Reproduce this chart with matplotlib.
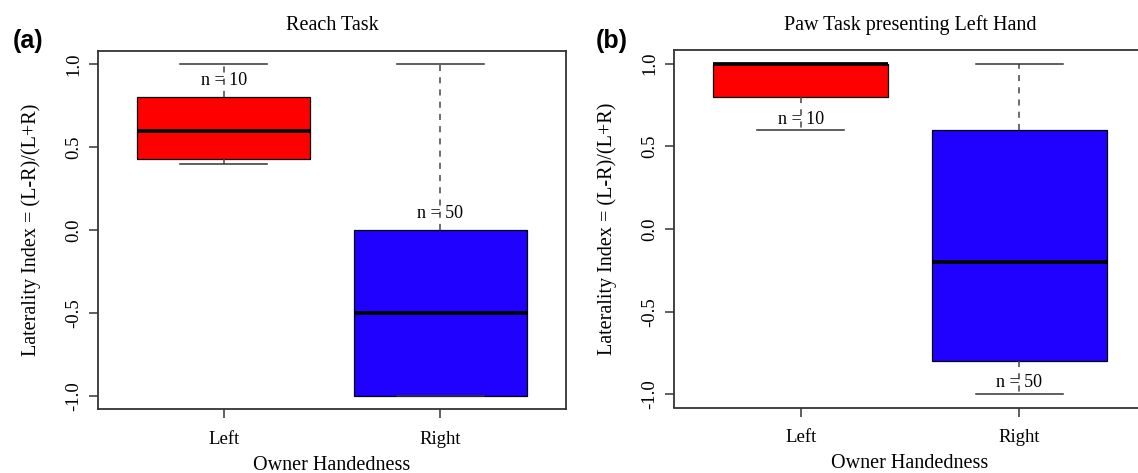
import matplotlib
matplotlib.use("Agg")
import matplotlib.pyplot as plt

# Data (R style boxplots)
groups = ["Left", "Right"]
panel_titles = ["Reach Task", "Paw Task presenting Left Hand"]
panel_tags = ["(a)", "(b)"]

# panel (a): Reach Task
reach_whislo = [0.40, -1.00]
reach_q1 = [0.43, -1.00]
reach_med = [0.60, -0.50]
reach_q3 = [0.80, 0.00]
reach_whishi = [1.00, 1.00]
reach_n = [10, 50]

# panel (b): Paw Task presenting Left Hand
paw_whislo = [0.60, -1.00]
paw_q1 = [0.80, -0.80]
paw_med = [1.00, -0.20]
paw_q3 = [1.00, 0.60]
paw_whishi = [1.00, 1.00]
paw_n = [10, 50]

yticks = [-1.0, -0.5, 0.0, 0.5, 1.0]
box_colors = ["#ff0000", "#2000ff"]

# where the "n = .." labels sit (y, data units)
reach_n_pos = [0.90, 0.10]
paw_n_pos = [0.665, -0.93]

serif = ["Liberation Serif", "DejaVu Serif"]


def make_stats(whislo, q1, med, q3, whishi):
    stats = []
    for i in range(len(med)):
        stats.append({
            "whislo": whislo[i], "q1": q1[i], "med": med[i],
            "q3": q3[i], "whishi": whishi[i], "fliers": [],
        })
    return stats


def draw_panel(ax, stats, n_vals, n_pos, title):
    bp = ax.bxp(
        stats, positions=[1, 2], widths=0.8, capwidths=0.4,
        patch_artist=True, showfliers=False,
        boxprops=dict(edgecolor="black", linewidth=0.9),
        medianprops=dict(color="black", linewidth=2.7, solid_capstyle="butt"),
        whiskerprops=dict(color="#444444", linewidth=1.1, linestyle=(0, (4, 4))),
        capprops=dict(color="#333333", linewidth=1.1),
    )
    for patch, c in zip(bp["boxes"], box_colors):
        patch.set_facecolor(c)

    for i, n in enumerate(n_vals):
        ax.text(i + 1, n_pos[i], f"n = {n}", ha="center", va="center",
                fontsize=13, family=serif)

    ax.set_xlim(0.42, 2.58)
    ax.set_ylim(-1.08, 1.08)
    ax.set_xticks([1, 2])
    ax.set_xticklabels(groups, fontsize=13.5, family=serif)
    ax.set_yticks(yticks)
    ax.set_yticklabels([f"{v:.1f}" for v in yticks], fontsize=13.5,
                       family=serif, rotation=90, va="center")
    ax.tick_params(axis="y", length=6.5, width=1.1, color="#333333", pad=5)
    ax.tick_params(axis="x", length=6.5, width=1.1, color="#333333", pad=9)
    for s in ax.spines.values():
        s.set_linewidth(1.3)
        s.set_color("#333333")

    ax.set_xlabel("Owner Handedness", fontsize=14.5, family=serif, labelpad=6)
    ax.set_ylabel("Laterality Index = (L-R)/(L+R)", fontsize=14.5, family=serif,
                  labelpad=17)
    ax.set_title(title, fontsize=14.5, family=serif, pad=15)


fig = plt.figure(figsize=(11.38, 4.73), dpi=100)

ax_a = fig.add_axes([98 / 1138, (473 - 409) / 473, 468 / 1138, 358 / 473])
ax_b = fig.add_axes([674 / 1138, (473 - 407.5) / 473, 472 / 1138, 357 / 473])

draw_panel(ax_a, make_stats(reach_whislo, reach_q1, reach_med, reach_q3, reach_whishi),
           reach_n, reach_n_pos, panel_titles[0])
draw_panel(ax_b, make_stats(paw_whislo, paw_q1, paw_med, paw_q3, paw_whishi),
           paw_n, paw_n_pos, panel_titles[1])

fig.text(28 / 1138, 1 - 41 / 473, panel_tags[0], fontsize=18, fontweight="bold",
         family=["Liberation Sans", "DejaVu Sans"], ha="center", va="center")
fig.text(612 / 1138, 1 - 41 / 473, panel_tags[1], fontsize=18, fontweight="bold",
         family=["Liberation Sans", "DejaVu Sans"], ha="center", va="center")

fig.savefig("out.png", dpi=100)
